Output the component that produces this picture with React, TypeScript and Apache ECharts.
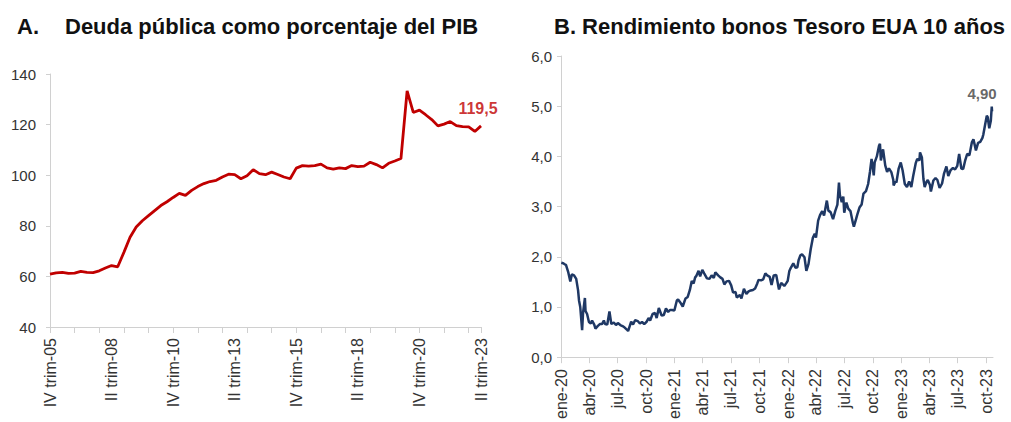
import React, { useEffect, useRef } from "react";
import * as echarts from "echarts";

const FONT = "'Liberation Sans', Arial, sans-serif";

// ---- Chart A: public debt as % of GDP (quarterly, IV-2005 .. II-2023)
const debtValues: number[] = [
  60.9, 61.4, 61.6, 61.2, 61.3, 62.0, 61.6, 61.5, 62.2, 63.3,
  64.3, 63.8, 69.5, 75.5, 79.5, 82.0, 84.0, 86.0, 88.0, 89.5,
  91.2, 92.8, 92.0, 94.0, 95.5, 96.7, 97.5, 98.0, 99.3, 100.4,
  100.2, 98.6, 99.8, 102.2, 100.6, 100.2, 101.2, 100.3, 99.3, 98.6,
  102.8, 103.8, 103.6, 103.8, 104.4, 102.9, 102.4, 102.9, 102.6, 103.8,
  103.4, 103.6, 105.1, 104.2, 102.9, 104.7, 105.6, 106.6, 133.3, 124.8,
  125.7, 123.9, 122.0, 119.5, 120.2, 121.2, 119.6, 119.2, 119.1, 117.3,
  119.5,
];
const romans = ["I", "II", "III", "IV"];
const debtStartYear = 2005;
const debtStartQuarter = 3; // index into romans (IV)
const debtCategories: string[] = debtValues.map((_, i) => {
  const q = (debtStartQuarter + i) % 4;
  const y = debtStartYear + Math.floor((debtStartQuarter + i) / 4);
  return `${romans[q]} trim-${String(y % 100).padStart(2, "0")}`;
});

// ---- Chart B: US 10-year Treasury yield
const y2020: [string, number][] = [
  ["2020-01-02", 1.88], ["2020-01-08", 1.87], ["2020-01-13", 1.85], ["2020-01-17", 1.84],
  ["2020-01-24", 1.7], ["2020-01-31", 1.51], ["2020-02-05", 1.65], ["2020-02-12", 1.63],
  ["2020-02-19", 1.56], ["2020-02-25", 1.33], ["2020-02-28", 1.13], ["2020-03-03", 1.0],
  ["2020-03-09", 0.54], ["2020-03-12", 0.88], ["2020-03-18", 1.18], ["2020-03-20", 0.92],
  ["2020-03-25", 0.86], ["2020-03-31", 0.7], ["2020-04-06", 0.67], ["2020-04-10", 0.73],
  ["2020-04-17", 0.65], ["2020-04-21", 0.57], ["2020-04-28", 0.62], ["2020-05-05", 0.66],
  ["2020-05-12", 0.66], ["2020-05-18", 0.73], ["2020-05-22", 0.66], ["2020-05-29", 0.65],
  ["2020-06-05", 0.91], ["2020-06-11", 0.66], ["2020-06-19", 0.69], ["2020-06-26", 0.64],
  ["2020-07-02", 0.68], ["2020-07-10", 0.64], ["2020-07-17", 0.62], ["2020-07-24", 0.59],
  ["2020-07-31", 0.55], ["2020-08-04", 0.52], ["2020-08-14", 0.71], ["2020-08-20", 0.65],
  ["2020-08-27", 0.74], ["2020-09-04", 0.72], ["2020-09-11", 0.67], ["2020-09-18", 0.7],
  ["2020-09-25", 0.66], ["2020-10-02", 0.7], ["2020-10-09", 0.78], ["2020-10-14", 0.73],
  ["2020-10-22", 0.86], ["2020-10-30", 0.88], ["2020-11-04", 0.78], ["2020-11-11", 0.98],
  ["2020-11-20", 0.83], ["2020-11-27", 0.84], ["2020-12-04", 0.97], ["2020-12-11", 0.9],
  ["2020-12-17", 0.94], ["2020-12-24", 0.94], ["2020-12-31", 0.93],
];
const y2021: [string, number][] = [
  ["2021-01-08", 1.13], ["2021-01-12", 1.15], ["2021-01-19", 1.09], ["2021-01-27", 1.01],
  ["2021-02-05", 1.17], ["2021-02-12", 1.2], ["2021-02-19", 1.34], ["2021-02-25", 1.52],
  ["2021-03-03", 1.47], ["2021-03-08", 1.59], ["2021-03-12", 1.62], ["2021-03-19", 1.72],
  ["2021-03-24", 1.61], ["2021-03-31", 1.74], ["2021-04-06", 1.67], ["2021-04-15", 1.57],
  ["2021-04-23", 1.56], ["2021-04-30", 1.63], ["2021-05-07", 1.58], ["2021-05-12", 1.69],
  ["2021-05-21", 1.63], ["2021-05-28", 1.59], ["2021-06-04", 1.56], ["2021-06-10", 1.45],
  ["2021-06-17", 1.51], ["2021-06-25", 1.52], ["2021-07-02", 1.43], ["2021-07-08", 1.29],
  ["2021-07-16", 1.3], ["2021-07-20", 1.19], ["2021-07-30", 1.24], ["2021-08-04", 1.17],
  ["2021-08-12", 1.36], ["2021-08-20", 1.26], ["2021-08-27", 1.31], ["2021-09-03", 1.33],
  ["2021-09-10", 1.34], ["2021-09-17", 1.37], ["2021-09-24", 1.47], ["2021-09-28", 1.54],
  ["2021-10-06", 1.53], ["2021-10-13", 1.55], ["2021-10-20", 1.67], ["2021-10-26", 1.63],
  ["2021-11-03", 1.6], ["2021-11-09", 1.44], ["2021-11-16", 1.63], ["2021-11-24", 1.64],
  ["2021-11-30", 1.44], ["2021-12-03", 1.35], ["2021-12-10", 1.48], ["2021-12-20", 1.42],
  ["2021-12-27", 1.48], ["2021-12-31", 1.52],
];
const y2022: [string, number][] = [
  ["2022-01-05", 1.71], ["2022-01-10", 1.78], ["2022-01-18", 1.87], ["2022-01-25", 1.78],
  ["2022-01-31", 1.79], ["2022-02-04", 1.93], ["2022-02-10", 2.03], ["2022-02-15", 2.05],
  ["2022-02-23", 1.99], ["2022-03-01", 1.72], ["2022-03-08", 1.86], ["2022-03-15", 2.15],
  ["2022-03-22", 2.38], ["2022-03-28", 2.46], ["2022-04-01", 2.38], ["2022-04-08", 2.72],
  ["2022-04-14", 2.83], ["2022-04-21", 2.91], ["2022-04-27", 2.82], ["2022-05-06", 3.12],
  ["2022-05-11", 2.92], ["2022-05-18", 2.89], ["2022-05-26", 2.75], ["2022-06-02", 2.91],
  ["2022-06-09", 3.04], ["2022-06-14", 3.48], ["2022-06-17", 3.23], ["2022-06-23", 3.09],
  ["2022-06-28", 3.2], ["2022-07-01", 2.88], ["2022-07-08", 3.08], ["2022-07-14", 2.96],
  ["2022-07-21", 2.91], ["2022-07-29", 2.67], ["2022-08-01", 2.6], ["2022-08-08", 2.75],
  ["2022-08-12", 2.84], ["2022-08-19", 2.98], ["2022-08-26", 3.04], ["2022-09-01", 3.26],
  ["2022-09-09", 3.31], ["2022-09-16", 3.45], ["2022-09-22", 3.7], ["2022-09-27", 3.95],
  ["2022-09-30", 3.83], ["2022-10-04", 3.62], ["2022-10-07", 3.88], ["2022-10-14", 4.0],
  ["2022-10-21", 4.21], ["2022-10-24", 4.25], ["2022-10-27", 3.92], ["2022-11-03", 4.14],
  ["2022-11-10", 3.82], ["2022-11-16", 3.69], ["2022-11-22", 3.76], ["2022-11-30", 3.68],
  ["2022-12-06", 3.53], ["2022-12-07", 3.42], ["2022-12-13", 3.5], ["2022-12-16", 3.48],
  ["2022-12-23", 3.75], ["2022-12-30", 3.88],
];
const y2023: [string, number][] = [
  ["2023-01-05", 3.72], ["2023-01-12", 3.45], ["2023-01-19", 3.39], ["2023-01-26", 3.5],
  ["2023-02-02", 3.39], ["2023-02-08", 3.61], ["2023-02-16", 3.86], ["2023-02-21", 3.95],
  ["2023-02-28", 3.92], ["2023-03-02", 4.08], ["2023-03-08", 3.98], ["2023-03-13", 3.55],
  ["2023-03-17", 3.39], ["2023-03-22", 3.48], ["2023-03-27", 3.53], ["2023-04-03", 3.43],
  ["2023-04-06", 3.3], ["2023-04-14", 3.52], ["2023-04-21", 3.57], ["2023-04-27", 3.53],
  ["2023-05-04", 3.37], ["2023-05-12", 3.46], ["2023-05-18", 3.65], ["2023-05-26", 3.8],
  ["2023-06-01", 3.61], ["2023-06-08", 3.72], ["2023-06-16", 3.77], ["2023-06-23", 3.74],
  ["2023-06-30", 3.81], ["2023-07-06", 4.05], ["2023-07-13", 3.76], ["2023-07-19", 3.75],
  ["2023-07-25", 3.91], ["2023-08-01", 4.05], ["2023-08-08", 4.02], ["2023-08-16", 4.28],
  ["2023-08-21", 4.34], ["2023-08-29", 4.12], ["2023-09-05", 4.27], ["2023-09-12", 4.29],
  ["2023-09-19", 4.37], ["2023-09-22", 4.44], ["2023-09-27", 4.61], ["2023-10-03", 4.81],
  ["2023-10-06", 4.78], ["2023-10-11", 4.56], ["2023-10-16", 4.71], ["2023-10-19", 4.99],
  ["2023-10-20", 4.9],
];
const bondTickDates: string[] = [
  "2020-01-01", "2020-04-01", "2020-07-01", "2020-10-01",
  "2021-01-01", "2021-04-01", "2021-07-01", "2021-10-01",
  "2022-01-01", "2022-04-01", "2022-07-01", "2022-10-01",
  "2023-01-01", "2023-04-01", "2023-07-01", "2023-10-01",
];
const bondTickLabels: string[] = [
  "ene-20", "abr-20", "jul-20", "oct-20",
  "ene-21", "abr-21", "jul-21", "oct-21",
  "ene-22", "abr-22", "jul-22", "oct-22",
  "ene-23", "abr-23", "jul-23", "oct-23",
];
const bondAxisStart = "2020-01-01";
const bondAxisEnd = "2023-10-23";

export default function App() {
  const ref = useRef<HTMLDivElement>(null);
  useEffect(() => {
    if (!ref.current) return;
    const chart = echarts.init(ref.current, undefined, { renderer: "svg" });

    const tickTs = bondTickDates.map((d) => Date.parse(d));
    const bondAll = [...y2020, ...y2021, ...y2022, ...y2023];
    const bondData: [number, number][] = bondAll.map(([d, v]) => [Date.parse(d), v]);
    const lastB = bondData[bondData.length - 1];
    const lastDIndex = debtValues.length - 1;
    const lastD = debtValues[lastDIndex];

    const axisGray = "#d0d0d0";
    const labelColor = "#333333";
    const titleStyle = { fontFamily: FONT, fontSize: 22, fontWeight: "bold", color: "#111111" };

    chart.setOption({
      animation: false,
      title: [
        { text: "A.", left: 12, top: 10, textStyle: titleStyle },
        { text: "Deuda pública como porcentaje del PIB", left: 60, top: 10, textStyle: titleStyle },
        { text: "B. Rendimiento bonos Tesoro EUA 10 años", left: 549, top: 10, textStyle: titleStyle },
      ],
      grid: [
        { left: 50, top: 74, width: 431, height: 253 },
        { left: 561, top: 56, width: 432, height: 304 },
      ],
      xAxis: [
        {
          gridIndex: 0,
          type: "category",
          data: debtCategories,
          boundaryGap: false,
          axisLine: { lineStyle: { color: axisGray } },
          axisTick: { interval: 3, length: 6, lineStyle: { color: axisGray } },
          axisLabel: {
            interval: 9,
            rotate: 90,
            margin: 11,
            fontFamily: FONT,
            fontSize: 16,
            color: labelColor,
            showMinLabel: true,
            showMaxLabel: true,
          },
          splitLine: { show: false },
        },
        {
          gridIndex: 1,
          type: "value",
          min: Date.parse(bondAxisStart),
          max: Date.parse(bondAxisEnd),
          axisLine: { show: true, lineStyle: { color: axisGray } },
          axisTick: { show: true, length: 6, customValues: tickTs, lineStyle: { color: axisGray } },
          axisLabel: {
            customValues: tickTs,
            rotate: 90,
            margin: 12,
            fontFamily: FONT,
            fontSize: 16,
            color: labelColor,
            formatter: (v: number) => {
              const i = tickTs.indexOf(v);
              return i >= 0 ? bondTickLabels[i] : "";
            },
          },
          splitLine: { show: false },
        },
      ],
      yAxis: [
        {
          gridIndex: 0,
          type: "value",
          min: 40,
          max: 140,
          interval: 20,
          axisLine: { show: true, lineStyle: { color: axisGray } },
          axisTick: { show: true, length: 4, lineStyle: { color: axisGray } },
          axisLabel: { fontFamily: FONT, fontSize: 15, color: labelColor, margin: 14 },
          splitLine: { show: false },
        },
        {
          gridIndex: 1,
          type: "value",
          min: 0,
          max: 6,
          interval: 1,
          axisLine: { show: true, lineStyle: { color: axisGray } },
          axisTick: { show: true, length: 4, lineStyle: { color: axisGray } },
          axisLabel: {
            fontFamily: FONT,
            fontSize: 15,
            color: labelColor,
            margin: 9,
            formatter: (v: number) => v.toFixed(1).replace(".", ","),
          },
          splitLine: { show: false },
        },
      ],
      series: [
        {
          type: "line",
          xAxisIndex: 0,
          yAxisIndex: 0,
          data: debtValues,
          symbol: "none",
          lineStyle: { color: "#C00000", width: 2.8 },
          itemStyle: { color: "#C00000" },
        },
        {
          type: "line",
          xAxisIndex: 1,
          yAxisIndex: 1,
          data: bondData,
          symbol: "none",
          lineStyle: { color: "#1F3864", width: 2.5 },
          itemStyle: { color: "#1F3864" },
        },
        {
          type: "scatter",
          xAxisIndex: 0,
          yAxisIndex: 0,
          data: [[lastDIndex, lastD]],
          symbolSize: 1,
          itemStyle: { color: "rgba(0,0,0,0)" },
          label: {
            show: true,
            position: "top",
            distance: 9,
            offset: [-3, 0],
            fontFamily: FONT,
            fontSize: 16,
            fontWeight: "bold",
            color: "#C00000",
            formatter: (p: any) => String(p.value[1]).replace(".", ","),
          },
          silent: true,
          z: 5,
        },
        {
          type: "scatter",
          xAxisIndex: 1,
          yAxisIndex: 1,
          data: [lastB],
          symbolSize: 1,
          itemStyle: { color: "rgba(0,0,0,0)" },
          label: {
            show: true,
            position: "top",
            distance: 10,
            offset: [-10, 0],
            fontFamily: FONT,
            fontSize: 15,
            fontWeight: "bold",
            color: "#404040",
            formatter: (p: any) => p.value[1].toFixed(2).replace(".", ","),
          },
          silent: true,
          z: 5,
        },
      ],
    });
    return () => chart.dispose();
  }, []);

  return (
    <div
      ref={ref}
      style={{ position: "fixed", left: 0, top: 0, width: 1011, height: 422, background: "#fff" }}
    />
  );
}
